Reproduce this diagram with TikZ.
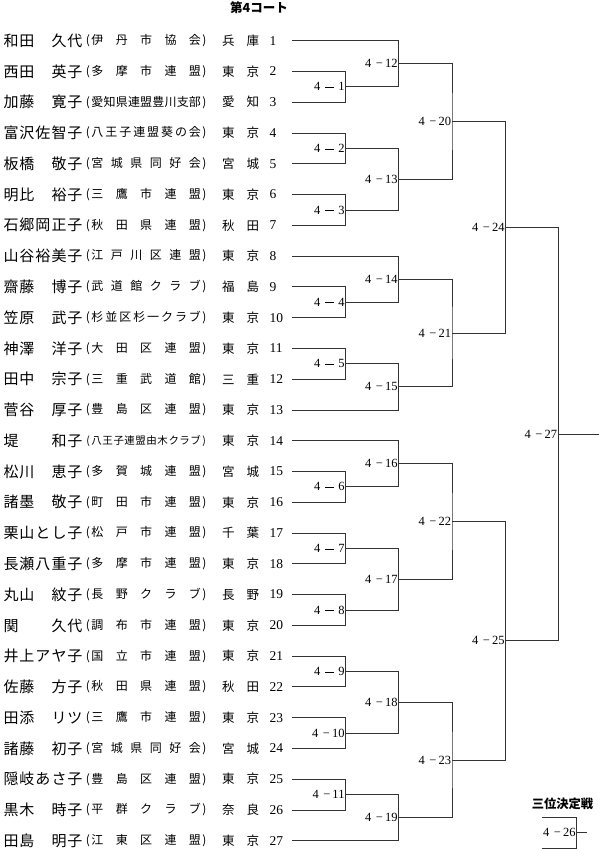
\documentclass[tikz,border=0pt]{standalone}
\usepackage{fontspec}
\setmainfont{Liberation Serif}
\newfontfamily\jp{Noto Sans CJK JP}
\usetikzlibrary{calc}
\makeatletter
\newcommand\spreadchars[2]{\hbox to #1{\let\my@sep\relax\@tfor\my@c:=#2\do{\my@sep\my@c\let\my@sep\hfil}}}
\makeatother
\newcommand\cells[5]{\makebox[16pt]{#1}\makebox[16pt]{#2}\makebox[16pt]{#3}\makebox[16pt]{#4}\makebox[16pt]{#5}}
\newcommand\prefbox[2]{\hbox to 37pt{#1\hfil#2}}
\newcommand\mlab[1]{\ifnum#1<10 4\hspace{5pt}\rule[3.4pt]{9pt}{0.6pt}\hspace{4pt}#1\hspace{2pt}\else 4\hspace{4.5pt}−\hspace{2pt}#1\fi}
\tikzset{
 txt/.style={inner sep=0pt, outer sep=0pt},
 nm/.style={txt, anchor=west, font=\jp\fontsize{15}{15}\selectfont},
 clubnode/.style={txt, anchor=west, font=\jp},
 pf/.style={txt, anchor=west, font=\jp\fontsize{12.5}{12.5}\selectfont},
 num/.style={txt, anchor=west, font=\fontsize{13.5}{13.5}\selectfont},
 lbl/.style={txt, anchor=east, font=\fontsize{12.5}{12.5}\selectfont},
 head/.style={txt, font=\jp\bfseries\fontsize{12.5}{12.5}\selectfont},
 br/.style={line width=0.8pt, draw=black!80},
}
\newcommand\prow[5][12]{%
 \pgfmathsetmacro\ry{40.7+(#2-1)*30.77}
 \coordinate (p#2) at (292,\ry);
 \node[nm] (n#2) at (3,\ry) {\cells#3};
 \node[clubnode] (c#2) at (91.5,\ry) {\fontsize{#1}{#1}\selectfont\llap{(\kern1.5pt}\spreadchars{109.5pt}{#4}\rlap{\kern1.5pt)}};
 \node[pf] (f#2) at (222,\ry) {\prefbox#5};
 \node[num] (d#2) at (269.5,\ry) {#2};
}
\begin{document}
\begin{tikzpicture}[x=1pt,y=-1pt]
\fill[white] (0,0) rectangle (600,850);
\useasboundingbox (0,0) rectangle (600,850);
\node[head] (title) at (259,8) {第4コート};
\prow{1}{{和}{田}{}{久}{代}}{伊丹市協会}{{兵}{庫}}
\prow{2}{{西}{田}{}{英}{子}}{多摩市連盟}{{東}{京}}
\prow{3}{{加}{藤}{}{寛}{子}}{愛知県連盟豊川支部}{{愛}{知}}
\prow{4}{{富}{沢}{佐}{智}{子}}{八王子連盟葵の会}{{東}{京}}
\prow{5}{{板}{橋}{}{敬}{子}}{宮城県同好会}{{宮}{城}}
\prow{6}{{明}{比}{}{裕}{子}}{三鷹市連盟}{{東}{京}}
\prow{7}{{石}{郷}{岡}{正}{子}}{秋田県連盟}{{秋}{田}}
\prow{8}{{山}{谷}{裕}{美}{子}}{江戸川区連盟}{{東}{京}}
\prow{9}{{齋}{藤}{}{博}{子}}{武道館クラブ}{{福}{島}}
\prow{10}{{笠}{原}{}{武}{子}}{杉並区杉一クラブ}{{東}{京}}
\prow{11}{{神}{澤}{}{洋}{子}}{大田区連盟}{{東}{京}}
\prow{12}{{田}{中}{}{宗}{子}}{三重武道館}{{三}{重}}
\prow{13}{{菅}{谷}{}{厚}{子}}{豊島区連盟}{{東}{京}}
\prow[10.5]{14}{{堤}{}{}{和}{子}}{八王子連盟由木クラブ}{{東}{京}}
\prow{15}{{松}{川}{}{恵}{子}}{多賀城連盟}{{宮}{城}}
\prow{16}{{諸}{墨}{}{敬}{子}}{町田市連盟}{{東}{京}}
\prow{17}{{栗}{山}{と}{し}{子}}{松戸市連盟}{{千}{葉}}
\prow{18}{{長}{瀬}{八}{重}{子}}{多摩市連盟}{{東}{京}}
\prow{19}{{丸}{山}{}{紋}{子}}{長野クラブ}{{長}{野}}
\prow{20}{{関}{}{}{久}{代}}{調布市連盟}{{東}{京}}
\prow{21}{{井}{上}{ア}{ヤ}{子}}{国立市連盟}{{東}{京}}
\prow{22}{{佐}{藤}{}{方}{子}}{秋田県連盟}{{秋}{田}}
\prow{23}{{田}{添}{}{リ}{ツ}}{三鷹市連盟}{{東}{京}}
\prow{24}{{諸}{藤}{}{初}{子}}{宮城県同好会}{{宮}{城}}
\prow{25}{{隠}{岐}{あ}{さ}{子}}{豊島区連盟}{{東}{京}}
\prow{26}{{黒}{木}{}{時}{子}}{平群クラブ}{{奈}{良}}
\prow{27}{{田}{島}{}{明}{子}}{江東区連盟}{{東}{京}}
% match points
\coordinate (m1) at (345.5,86.86);
\coordinate (m2) at (345.5,148.40);
\coordinate (m3) at (345.5,209.94);
\coordinate (m4) at (345.5,302.25);
\coordinate (m5) at (345.5,363.79);
\coordinate (m6) at (345.5,486.87);
\coordinate (m7) at (345.5,548.41);
\coordinate (m8) at (345.5,609.95);
\coordinate (m9) at (345.5,671.49);
\coordinate (m10) at (345.5,733.03);
\coordinate (m11) at (345.5,794.57);
\coordinate (m12) at (398.5,63.78);
\coordinate (m13) at (398.5,179.17);
\coordinate (m14) at (398.5,279.17);
\coordinate (m15) at (398.5,386.86);
\coordinate (m16) at (398.5,463.79);
\coordinate (m17) at (398.5,579.18);
\coordinate (m18) at (398.5,702.26);
\coordinate (m19) at (398.5,817.64);
\coordinate (m20) at (452,121.47);
\coordinate (m21) at (452,333.02);
\coordinate (m22) at (452,521.48);
\coordinate (m23) at (452,759.95);
\coordinate (m24) at (505.5,227.24);
\coordinate (m25) at (505.5,640.72);
\coordinate (m27) at (558,433.98);
\coordinate (out) at (599,433.98);
% round 1
\draw[br] (p2) -| (m1) |- (p3);
\draw[br] (p4) -| (m2) |- (p5);
\draw[br] (p6) -| (m3) |- (p7);
\draw[br] (p9) -| (m4) |- (p10);
\draw[br] (p11) -| (m5) |- (p12);
\draw[br] (p15) -| (m6) |- (p16);
\draw[br] (p17) -| (m7) |- (p18);
\draw[br] (p19) -| (m8) |- (p20);
\draw[br] (p21) -| (m9) |- (p22);
\draw[br] (p23) -| (m10) |- (p24);
\draw[br] (p25) -| (m11) |- (p26);
% round 2
\draw[br] (p1) -| (m12) |- (m1);
\draw[br] (m2) -| (m13) |- (m3);
\draw[br] (p8) -| (m14) |- (m4);
\draw[br] (m5) -| (m15) |- (p13);
\draw[br] (p14) -| (m16) |- (m6);
\draw[br] (m7) -| (m17) |- (m8);
\draw[br] (m9) -| (m18) |- (m10);
\draw[br] (m11) -| (m19) |- (p27);
% round 3
\draw[br] (m12) -| (m20) |- (m13);
\draw[br] (m14) -| (m21) |- (m15);
\draw[br] (m16) -| (m22) |- (m17);
\draw[br] (m18) -| (m23) |- (m19);
% round 4 and final
\draw[br] (m20) -| (m24) |- (m21);
\draw[br] (m22) -| (m25) |- (m23);
\draw[br] (m24) -| (m27) |- (m25);
\draw[br] (m27) -- (out);
% labels
\foreach \k in {1,...,25,27}{
  \node[lbl] (L\k) at ([xshift=-1pt]m\k) {\mlab{\k}};
}
% third place
\node[head, font=\jp\bfseries\fontsize{12.3}{12.3}\selectfont] (third) at (562.5,804) {三位決定戦};
\coordinate (t26) at (541.5,817);
\coordinate (b26) at (541.5,848);
\coordinate (m26) at (576.5,832.5);
\coordinate (o26) at (587,832.5);
\draw[br] (t26) -| (m26) |- (b26);
\draw[br] (m26) -- (o26);
\node[lbl] (L26) at ([xshift=-1pt]m26) {\mlab{26}};
\end{tikzpicture}
\end{document}
